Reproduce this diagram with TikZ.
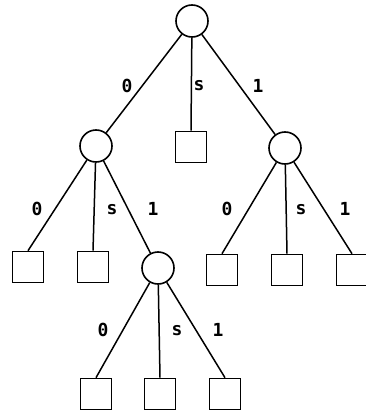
\documentclass[tikz,border=0pt]{standalone}
\usepackage{fontspec}
\setmonofont{DejaVu Sans Mono}
\begin{document}
\begin{tikzpicture}[x=1pt,y=-1pt,
  inner/.style={circle,draw,line width=1.6pt,minimum size=32pt,inner sep=0pt},
  leaf/.style={rectangle,draw,line width=1.6pt,minimum size=31pt,inner sep=0pt},
  lab/.style={font=\ttfamily\bfseries\fontsize{18}{18}\selectfont,inner sep=0pt},
  edge/.style={line width=1.5pt}]
\useasboundingbox (0,0) rectangle (366,415);
\node[inner] (r) at (192,21) {};
\node[inner] (a) at (96,146) {};
\node[leaf] (b) at (191,147) {};
\node[inner] (c) at (285,148) {};
\node[leaf] (a0) at (28,267) {};
\node[leaf] (as) at (93,267) {};
\node[inner] (a1) at (158,268) {};
\node[leaf] (c0) at (222,270) {};
\node[leaf] (cs) at (287,270) {};
\node[leaf] (c1) at (352,270) {};
\node[leaf] (d0) at (96,394) {};
\node[leaf] (ds) at (160,394) {};
\node[leaf] (d1) at (225,394) {};
\draw[edge] (r) -- (a);
\draw[edge] (r) -- (b.north);
\draw[edge] (r) -- (c);
\draw[edge] (a) -- (a0.north);
\draw[edge] (a) -- (as.north);
\draw[edge] (a) -- (a1);
\draw[edge] (c) -- (c0.north);
\draw[edge] (c) -- (cs.north);
\draw[edge] (c) -- (c1.north);
\draw[edge] (a1) -- (d0.north);
\draw[edge] (a1) -- (ds.north);
\draw[edge] (a1) -- (d1.north);
\node[lab] (l1) at (127,86) {0};
\node[lab] (l2) at (199,86) {s};
\node[lab] (l3) at (258,86) {1};
\node[lab] (l4) at (37,209) {0};
\node[lab] (l5) at (112,210) {s};
\node[lab] (l6) at (153,209) {1};
\node[lab] (l7) at (227,209) {0};
\node[lab] (l8) at (301,210) {s};
\node[lab] (l9) at (345,209) {1};
\node[lab] (l10) at (103,330) {0};
\node[lab] (l11) at (177,331) {s};
\node[lab] (l12) at (218,330) {1};
\end{tikzpicture}
\end{document}
